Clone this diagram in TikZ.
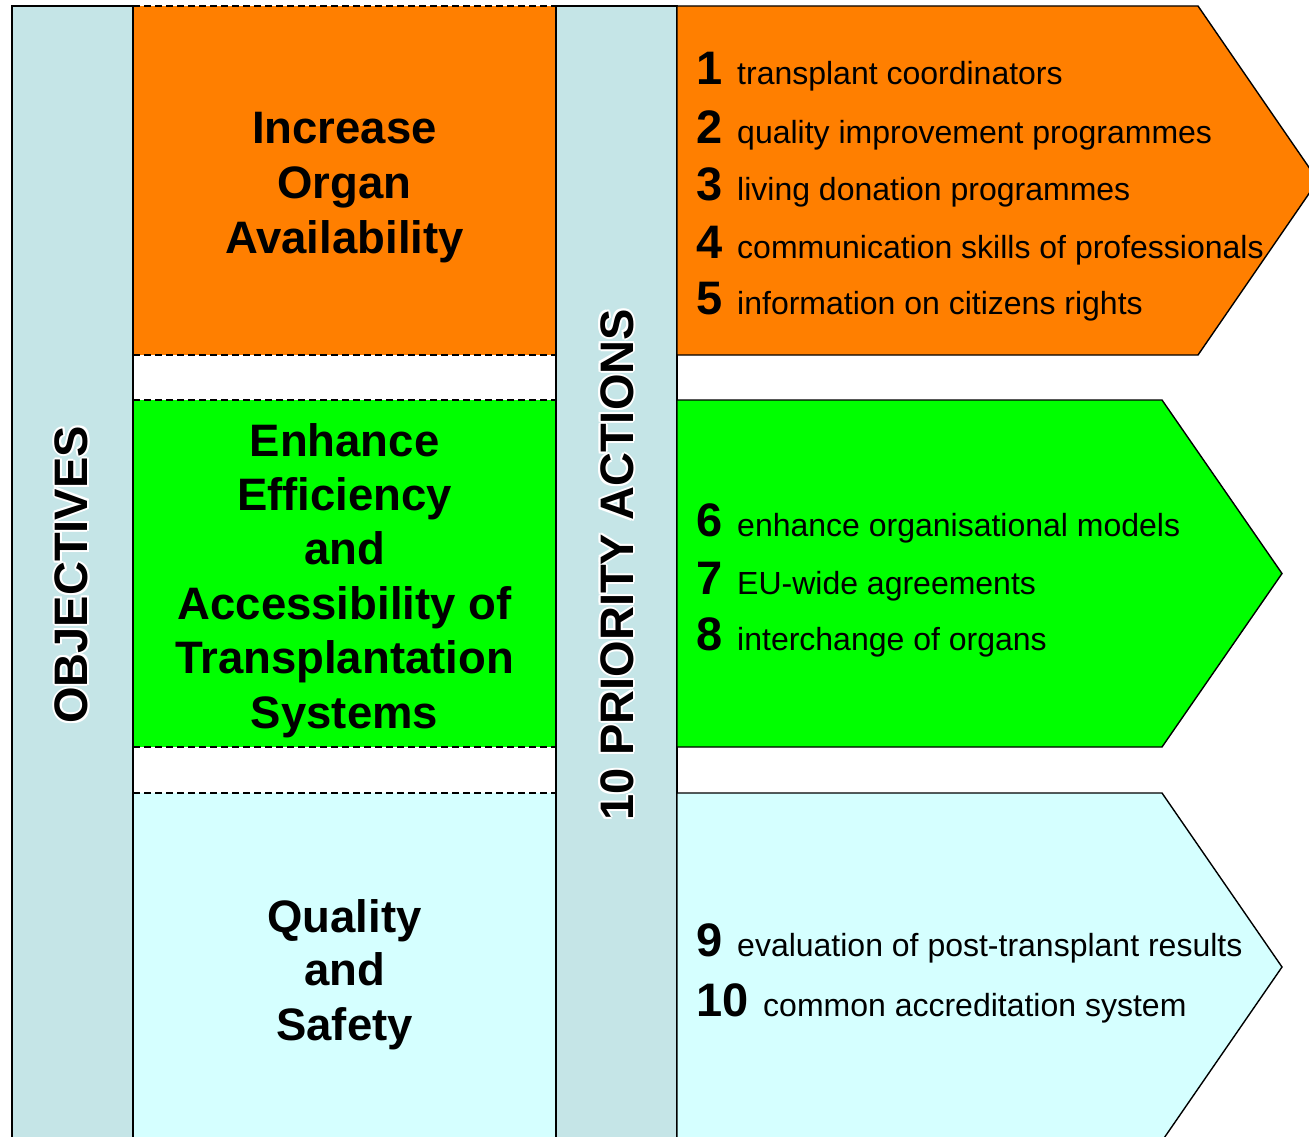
\documentclass[tikz,border=0pt]{standalone}
\usepackage{fontspec}
\setmainfont{Liberation Sans}
\definecolor{barc}{RGB}{197,229,231}
\definecolor{orangec}{RGB}{255,127,0}
\definecolor{greenc}{RGB}{0,255,0}
\definecolor{cyanc}{RGB}{213,255,255}
\tikzset{
  barbox/.style={draw=black, line width=1.4pt, fill=barc},
  dashline/.style={draw=black, line width=1.5pt, dash pattern=on 7pt off 4pt},
  arrowbox/.style={draw=black, line width=1.4pt, line join=miter},
  title/.style={font=\fontsize{45.5}{54}\selectfont\bfseries, inner sep=0pt, anchor=base},
  num/.style={font=\fontsize{47}{47}\selectfont\bfseries, inner sep=0pt, anchor=base west},
  item/.style={font=\fontsize{32}{32}\selectfont, inner sep=0pt, anchor=base west},
  vert/.style={font=\fontsize{47}{47}\selectfont\bfseries, rotate=90, inner sep=0pt}
}
\begin{document}
\begin{tikzpicture}[x=1pt,y=-1pt]
\useasboundingbox (0,0) rectangle (1309,1137);
\clip (0,0) rectangle (1309,1137);
% objective boxes
\fill[orangec] (133,6) rectangle (556,355);
\fill[greenc] (133,400) rectangle (556,747);
\fill[cyanc] (133,793) rectangle (556,1150);
\draw[dashline] (133,6) -- (556,6);
\draw[dashline] (133,355) -- (556,355);
\draw[dashline] (133,400) -- (556,400);
\draw[dashline] (133,747) -- (556,747);
\draw[dashline] (133,793) -- (556,793);
% bars
\draw[barbox] (12,6) rectangle (133,1160);
\draw[barbox] (556,6) rectangle (677,1160);
% arrows
\draw[arrowbox, fill=orangec] (677,6) -- (1198,6) -- (1318,180.5) -- (1198,355) -- (677,355) -- cycle;
\draw[arrowbox, fill=greenc] (677,400) -- (1162,400) -- (1282,573.5) -- (1162,747) -- (677,747) -- cycle;
\draw[arrowbox, fill=cyanc] (677,793) -- (1162,793) -- (1282,967) -- (1162,1141) -- (677,1141) -- cycle;
% vertical labels with white glow
\foreach \dx/\dy in {-2/0,2/0,0/-2,0/2,-1.5/-1.5,1.5/1.5,-1.5/1.5,1.5/-1.5}{
  \node[vert, white] at (71.5+\dx,575+\dy) {OBJECTIVES};
  \node[vert, white] at (617+\dx,565+\dy) {10 PRIORITY ACTIONS};
}
\node[vert] (obj) at (71.5,575) {OBJECTIVES};
\node[vert] (pri) at (617,565) {10 PRIORITY ACTIONS};
% objective titles
\foreach \t/\y [count=\i] in {Increase/144, Organ/198, Availability/253}
  \node[title] (ta\i) at (344.5,\y) {\t};
\foreach \t/\y [count=\i] in {Enhance/456, Efficiency/510.4, and/564.8, Accessibility of/619.2, Transplantation/673.6, Systems/728}
  \node[title] (tb\i) at (344.5,\y) {\t};
\foreach \t/\y [count=\i] in {Quality/932, and/985.5, Safety/1040}
  \node[title] (tc\i) at (344.5,\y) {\t};
% priority actions
\foreach \n/\t/\y in {1/transplant coordinators/85, 2/quality improvement programmes/143, 3/living donation programmes/200, 4/communication skills of professionals/258, 5/information on citizens rights/314, 6/enhance organisational models/536, 7/EU-wide agreements/594, 8/interchange of organs/650, 9/evaluation of post-transplant results/956}{
  \node[num] (n\n) at (696,\y) {\n};
  \node[item] (t\n) at (737,\y) {\t};
}
\node[num] (n10) at (696,1016) {10};
\node[item] (t10) at (763,1016) {common accreditation system};
\end{tikzpicture}
\end{document}
